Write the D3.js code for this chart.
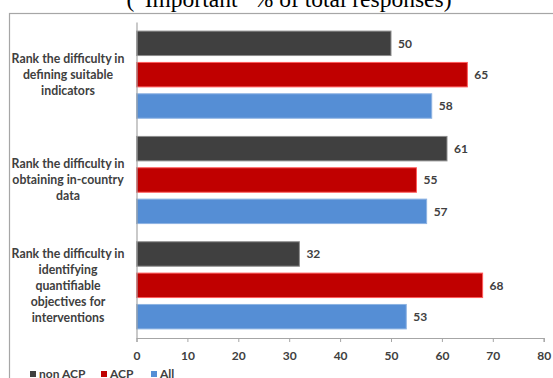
<!DOCTYPE html>
<html>
<head>
<meta charset="utf-8">
<script src="https://cdn.jsdelivr.net/npm/d3@7"></script>
<style>
  body { margin: 0; background: #fff; }
  svg { display: block; }
</style>
</head>
<body>
<div id="chart"></div>
<script>
// categories, top to bottom
var categories = [
  ["Rank the difficulty in", "defining suitable", "indicators"],
  ["Rank the difficulty in", "obtaining in-country", "data"],
  ["Rank the difficulty in", "identifying", "quantifiable", "objectives for", "interventions"]
];
var seriesNames = ["non ACP", "ACP", "All"];
var nonAcp = [50, 61, 32];
var acp = [65, 55, 68];
var all = [58, 57, 53];
var xTicks = [0, 10, 20, 30, 40, 50, 60, 70, 80];

var fills = ["#404040", "#c00000", "#558ed5"];
var strokes = ["#8c8c8c", "#ff5a5a", "#8db3e2"];

var W = 553, H = 378;
var margin = {top: 22, left: 136.5, right: 9, bottom: 40};

var svg = d3.select("#chart").append("svg")
    .attr("width", W)
    .attr("height", H);

// frame of the chart
svg.append("rect")
    .attr("x", 9.5)
    .attr("y", 13.5)
    .attr("width", W + 10)
    .attr("height", H + 10)
    .attr("fill", "#fff")
    .attr("stroke", "#a6a6a6")
    .attr("stroke-width", 1.2);

// title, clipped at the top of the page
svg.append("text")
    .attr("x", 289)
    .attr("y", 7)
    .attr("text-anchor", "middle")
    .style("font-family", "'Liberation Serif', 'Times New Roman', serif")
    .style("font-size", "23.5px")
    .attr("fill", "#000")
    .text("(\u201CImportant\u201D % of total responses)");

var x = d3.scaleLinear()
    .domain([0, 80])
    .range([margin.left, 543.7]);

var y = d3.scaleBand()
    .domain(d3.range(categories.length))
    .range([margin.top, 338]);

var ySub = d3.scaleBand()
    .domain(d3.range(seriesNames.length))
    .range([0, y.bandwidth()])
    .paddingInner(0.22)
    .paddingOuter(0.29);

var rows = categories.map(function(c, i) {
  return {i: i, label: c, values: [nonAcp[i], acp[i], all[i]]};
});

var txt = "#404040";
var font = "Lato, 'Open Sans', sans-serif";

var g = svg.selectAll(".grp")
    .data(rows)
  .enter().append("g")
    .attr("class", "grp")
    .attr("transform", function(d) { return "translate(0," + y(d.i) + ")"; });

g.selectAll("rect")
    .data(function(d) { return d.values; })
  .enter().append("rect")
    .attr("x", x(0))
    .attr("y", function(d, j) { return ySub(j); })
    .attr("width", function(d) { return x(d) - x(0); })
    .attr("height", ySub.bandwidth())
    .attr("fill", function(d, j) { return fills[j]; })
    .attr("stroke", function(d, j) { return strokes[j]; })
    .attr("stroke-width", 1);

// value labels
g.selectAll(".val")
    .data(function(d) { return d.values; })
  .enter().append("text")
    .attr("class", "val")
    .attr("x", function(d) { return x(d) + 7; })
    .attr("y", function(d, j) { return ySub(j) + ySub.bandwidth() / 2; })
    .attr("dy", "0.35em")
    .style("font-family", font)
    .style("font-size", "12px")
    .style("font-weight", "bold")
    .attr("fill", txt)
    .text(function(d) { return d; });

// category labels
g.append("text")
    .attr("text-anchor", "middle")
    .style("font-family", font)
    .style("font-size", "12.3px")
    .style("font-weight", "bold")
    .attr("fill", txt)
    .each(function(d) {
      var n = d.label.length;
      var t = d3.select(this);
      d.label.forEach(function(line, k) {
        t.append("tspan")
          .attr("x", 68)
          .attr("y", y.bandwidth() / 2 + (k - (n - 1) / 2) * 16)
          .attr("dy", "0.35em")
          .text(line);
      });
    });

// x axis
var xAxis = svg.append("g")
    .attr("transform", "translate(0,338)")
    .call(d3.axisBottom(x).tickValues(xTicks).tickSize(4).tickPadding(9));
xAxis.select(".domain").attr("stroke", "#a6a6a6").attr("stroke-width", 1.2);
xAxis.selectAll(".tick line").attr("stroke", "#a6a6a6");
xAxis.selectAll("text")
    .style("font-family", font)
    .style("font-size", "12px")
    .style("font-weight", "bold")
    .attr("fill", txt);

// y axis line
svg.append("g")
    .attr("transform", "translate(" + margin.left + ",0)")
    .call(d3.axisLeft(y).tickSize(0).tickFormat(""))
  .select(".domain")
    .attr("stroke", "#a6a6a6")
    .attr("stroke-width", 1.2);

// legend
var legX = [30, 101, 151];
var leg = svg.selectAll(".leg")
    .data(seriesNames)
  .enter().append("g")
    .attr("class", "leg")
    .attr("transform", function(d, i) { return "translate(" + legX[i] + ",374)"; });
leg.append("rect")
    .attr("x", 0)
    .attr("y", -3)
    .attr("width", 6)
    .attr("height", 6)
    .attr("fill", function(d, i) { return fills[i]; });
leg.append("text")
    .attr("x", 9)
    .attr("dy", "0.35em")
    .style("font-family", font)
    .style("font-size", "12px")
    .style("font-weight", "bold")
    .attr("fill", txt)
    .text(function(d) { return d; });
</script>
</body>
</html>
